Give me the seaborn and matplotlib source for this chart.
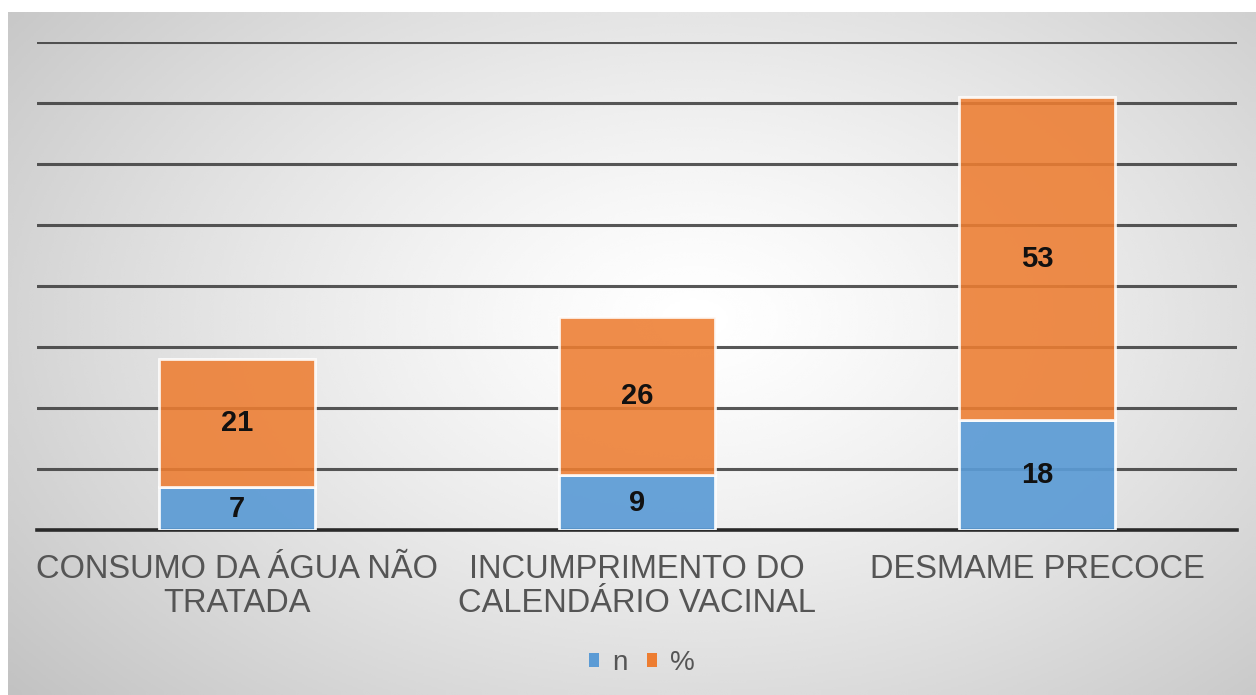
import numpy as np
import pandas as pd
import matplotlib
matplotlib.use("Agg")
import matplotlib.pyplot as plt
import seaborn as sns
from matplotlib.patches import Patch

categories = ["CONSUMO DA ÁGUA NÃO\nTRATADA", "INCUMPRIMENTO DO\nCALENDÁRIO VACINAL", "DESMAME PRECOCE"]
n_values = [7, 9, 18]
pct_values = [21, 26, 53]
series_labels = ["n", "%"]

sns.set_theme(style="white")
plt.rcParams['font.family'] = ['Liberation Sans', 'DejaVu Sans']

W, H = 1256, 695
fig = plt.figure(figsize=(W / 100, H / 100), dpi=100)
fig.patch.set_facecolor("white")

# gradient background
bg = fig.add_axes([8 / W, 0, 1 - 8 / W, (H - 12) / H], zorder=-10)
yy, xx = np.mgrid[0:1:300j, 0:1:500j]
r = np.sqrt(((xx - 0.55) / 0.72) ** 2 + ((yy - 0.45) / 0.85) ** 2)
val = np.clip(1.0 - 0.24 * r ** 1.3, 0.76, 1.0)
bg.imshow(val, cmap="gray", vmin=0, vmax=1, aspect="auto", extent=[0, 1, 0, 1], interpolation="bicubic")
bg.set_axis_off()

df = pd.DataFrame({"cat": categories, "n": n_values, "pct": pct_values})

ax = fig.add_axes([37 / W, (H - 530) / H, 1200 / W, (530 - 42) / H])
ax.set_facecolor("none")

blue = "#5B9BD5"
orange = "#ED7D31"

sns.barplot(data=df, x="cat", y="n", color=blue, width=0.39, ax=ax,
            edgecolor="white", linewidth=2, saturation=1, alpha=0.92, zorder=3)
sns.barplot(data=df, x="cat", y="pct", color=orange, width=0.39, ax=ax,
            edgecolor="white", linewidth=2, saturation=1, alpha=0.88, zorder=3,
            bottom=df["n"].values)

ax.set_ylim(0, 80)
ax.set_xlim(-0.5, 2.5)
ax.set_yticks(np.arange(0, 81, 10))
ax.yaxis.grid(True, color="#3a3a3a", linewidth=2.2, alpha=0.85, zorder=0)
ax.set_axisbelow(True)
ax.tick_params(axis="y", left=False, labelleft=False)
ax.tick_params(axis="x", bottom=False, pad=11.5, labelsize=23.5, labelcolor="#555555")
for lab in ax.get_xticklabels():
    lab.set_linespacing(1.1)
for s in ["left", "right", "top"]:
    ax.spines[s].set_visible(False)
ax.spines["bottom"].set_color("#2a2a2a")
ax.spines["bottom"].set_linewidth(2.6)
ax.set_xlabel("")
ax.set_ylabel("")

for i, (nv, pv) in enumerate(zip(n_values, pct_values)):
    ax.text(i, nv / 2, str(nv), ha="center", va="center", fontsize=21, fontweight="bold", color="#111111", zorder=5)
    ax.text(i, nv + pv / 2, str(pv), ha="center", va="center", fontsize=21, fontweight="bold", color="#111111", zorder=5)

handles = [Patch(facecolor=blue, edgecolor="none"), Patch(facecolor=orange, edgecolor="none")]
fig.legend(handles, series_labels, loc="center", bbox_to_anchor=(642 / W, 1 - 663 / H), ncol=2,
           frameon=False, handlelength=0.36, handleheight=0.36, handletextpad=0.47, columnspacing=0.72,
           fontsize=20, labelcolor="#555555")

fig.savefig("out.png", dpi=100)
